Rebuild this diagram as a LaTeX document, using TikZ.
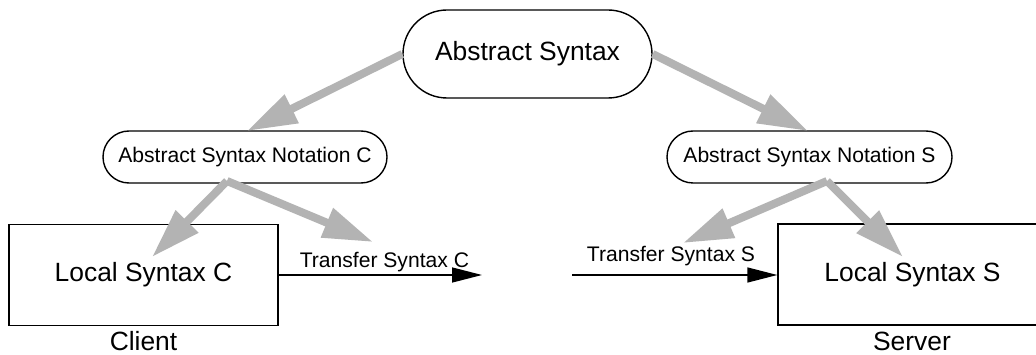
\documentclass[tikz,border=0pt]{standalone}
\usepackage{fontspec}
\setmainfont{Liberation Sans}
\usetikzlibrary{arrows.meta}
\definecolor{arrowgray}{RGB}{179,179,179}
\begin{document}
\begin{tikzpicture}[x=1pt,y=-1pt,
  bigtext/.style={font=\fontsize{26.4}{30}\selectfont},
  smalltext/.style={font=\fontsize{21.1}{25}\selectfont},
  stadium/.style={draw=black,line width=1.4pt,fill=white,inner sep=0pt},
  localbox/.style={draw=black,line width=1.4pt,fill=white,inner sep=0pt,minimum width=269pt,minimum height=101pt,bigtext},
  caption/.style={bigtext,inner sep=0pt,anchor=base},
  grayarrow/.style={draw=arrowgray,line width=8pt,-{Triangle[length=50pt,width=30pt]}},
  blackarrow/.style={draw=black,line width=1.4pt,-{Triangle[length=30pt,width=15pt]}}]
\useasboundingbox (0,0) rectangle (1036,355);
\fill[white] (0,0) rectangle (1036,355);
% nodes
\node[stadium,bigtext,minimum width=249pt,minimum height=88pt,rounded corners=44pt] (AS) at (527.5,54) {Abstract Syntax};
\node[stadium,smalltext,minimum width=284pt,minimum height=52pt,rounded corners=26pt] (ANC) at (245,157) {Abstract Syntax Notation C};
\node[stadium,smalltext,minimum width=285pt,minimum height=52pt,rounded corners=26pt] (ANS) at (809.5,157) {Abstract Syntax Notation S};
\node[localbox] (LSC) at (143.5,275) {Local Syntax C};
\node[localbox] (LSS) at (912.5,274.5) {Local Syntax S};
\node[caption] (client) at (143.5,350) {Client};
\node[caption] (server) at (912,350) {Server};
% free ends
\coordinate (c1) at (227,181);
\coordinate (s1) at (827,181);
\coordinate (tc) at (482,275);
\coordinate (ts) at (572,275);
\coordinate (t3) at (152,257);
\coordinate (t4) at (373,242);
\coordinate (t5) at (683,243);
\coordinate (t6) at (903,257);
% gray arrows
\draw[grayarrow] (AS.west) -- (247,131);
\draw[grayarrow] (AS.east) -- (808,131);
\draw[grayarrow] (c1) -- (t3);
\draw[grayarrow] (c1) -- (t4);
\draw[grayarrow] (s1) -- (t5);
\draw[grayarrow] (s1) -- (t6);
% black arrows
\draw[blackarrow] (LSC.east |- tc) -- (tc) node[pos=0.52,above=2pt,smalltext,inner sep=0pt] (lc) {Transfer Syntax C};
\draw[blackarrow] (ts) -- (LSS.west |- ts);
\node[smalltext,inner sep=0pt] (ls) at (671,256) {Transfer Syntax S};
\end{tikzpicture}
\end{document}
